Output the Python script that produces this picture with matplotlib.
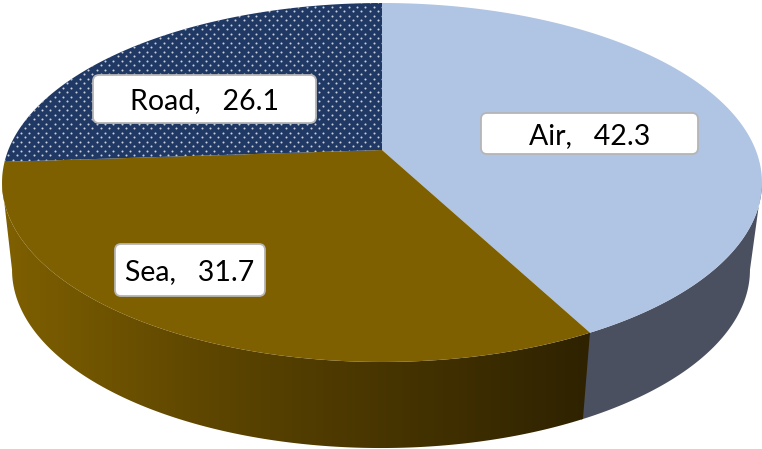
#!/usr/bin/env python
# -*- coding: utf-8 -*-

import numpy as np
import matplotlib
matplotlib.use("Agg")
import matplotlib.pyplot as plt
from matplotlib.colors import LinearSegmentedColormap
from matplotlib.patches import FancyBboxPatch, PathPatch
from matplotlib.path import Path

categories = ["Air", "Sea", "Road"]
values = [42.3, 31.7, 26.1]
face_colors = ["#B0C4E3", "#7F6000", "#1F3864"]

# perspective of the disc, in pixels of the 762x449 picture
CX, CY = 382, 150
PERSP = 0.181
SCALE_X, SCALE_Y = 373.7, 173.6
# angles where the disc is widest, the side wall starts there
WIDE_R, WIDE_L = 100.4, 259.6


def project(angle):
    # angle in degrees, clockwise from the top of the disc
    a = np.radians(angle)
    x, y = np.sin(a), np.cos(a)
    w = 1 + PERSP * y
    return CX + SCALE_X * x / w, CY - SCALE_Y * y / w


def project_low(angle):
    # same rim, on the lower edge of the pie side
    x, y = project(angle)
    return 381 + (x - 382) * 0.971, 270 + (y - 182.5) * 0.992


def top_path(a0, a1):
    t = np.linspace(a0, a1, 200)
    x, y = project(t)
    pts = np.column_stack([np.r_[CX, x, CX], np.r_[CY, y, CY]])
    return Path(pts, closed=True)


def side_path(a0, a1):
    t = np.linspace(a0, a1, 200)
    x0, y0 = project(t)
    x1, y1 = project_low(t[::-1])
    pts = np.column_stack([np.r_[x0, x1, x0[0]], np.r_[y0, y1, y0[0]]])
    return Path(pts, closed=True)


def add_label(ax, box, text):
    x0, y0, x1, y1 = box
    ax.add_patch(FancyBboxPatch((x0 + 5, y0 + 5), x1 - x0 - 10, y1 - y0 - 10,
                                boxstyle="round,pad=5,rounding_size=6",
                                fc="white", ec="#B5B5B5", lw=1.3, zorder=6))
    ax.text((x0 + x1) / 2, (y0 + y1) / 2, text, ha="center", va="center_baseline",
            fontsize=20.5, family="Lato", color="black", zorder=7)


def main():
    fig = plt.figure(figsize=(7.62, 4.49), dpi=100)
    ax = fig.add_axes([0, 0, 1, 1])
    ax.set_xlim(0, 762)
    ax.set_ylim(449, 0)
    ax.axis("off")

    shares = 360 * np.array(values) / sum(values)
    ends = np.cumsum(shares)
    starts = ends - shares

    # side walls, lower half only
    air_end = ends[0]
    ax.add_patch(PathPatch(side_path(WIDE_R, air_end + 0.3), fc="#4A5060", ec="none", zorder=1))

    cmap = LinearSegmentedColormap.from_list("side", ["#7F6000", "#5F4700", "#463400", "#2E2200"])
    sea_side = PathPatch(side_path(air_end, WIDE_L), fc="none", ec="none", zorder=2)
    ax.add_patch(sea_side)
    grad = ax.imshow(np.linspace(0, 1, 256).reshape(1, -1), cmap=cmap, aspect="auto",
                     extent=[2, 590, 449, 150], zorder=2)
    grad.set_clip_path(sea_side)
    ax.set_xlim(0, 762)
    ax.set_ylim(449, 0)

    # top faces
    for start, end, color in zip(starts, ends, face_colors):
        ax.add_patch(PathPatch(top_path(start, end), fc=color, ec="none", zorder=3))

    # dotted fill of the Road slice
    road = PathPatch(top_path(starts[2], ends[2]), fc="none", ec="none", zorder=4)
    ax.add_patch(road)
    dx, dy = 8.4, 4.5
    rows = np.arange(0, 170 / dy)
    gx, gy = [], []
    for r in rows:
        xs = np.arange(0, 390, dx) + (dx / 2 if int(r) % 2 else 0)
        gx.extend(xs)
        gy.extend(np.full(xs.shape, 2 + r * dy))
    dots = ax.scatter(gx, gy, s=2.2, c="#C9D0DC", linewidths=0, zorder=4)
    dots.set_clip_path(road)

    add_label(ax, (93, 75, 316, 123), "Road,   26.1")
    add_label(ax, (481, 113, 698, 154), "Air,   42.3")
    add_label(ax, (115, 244, 265, 296), "Sea,   31.7")

    fig.savefig("out.png", dpi=100)


if __name__ == '__main__':
    main()
